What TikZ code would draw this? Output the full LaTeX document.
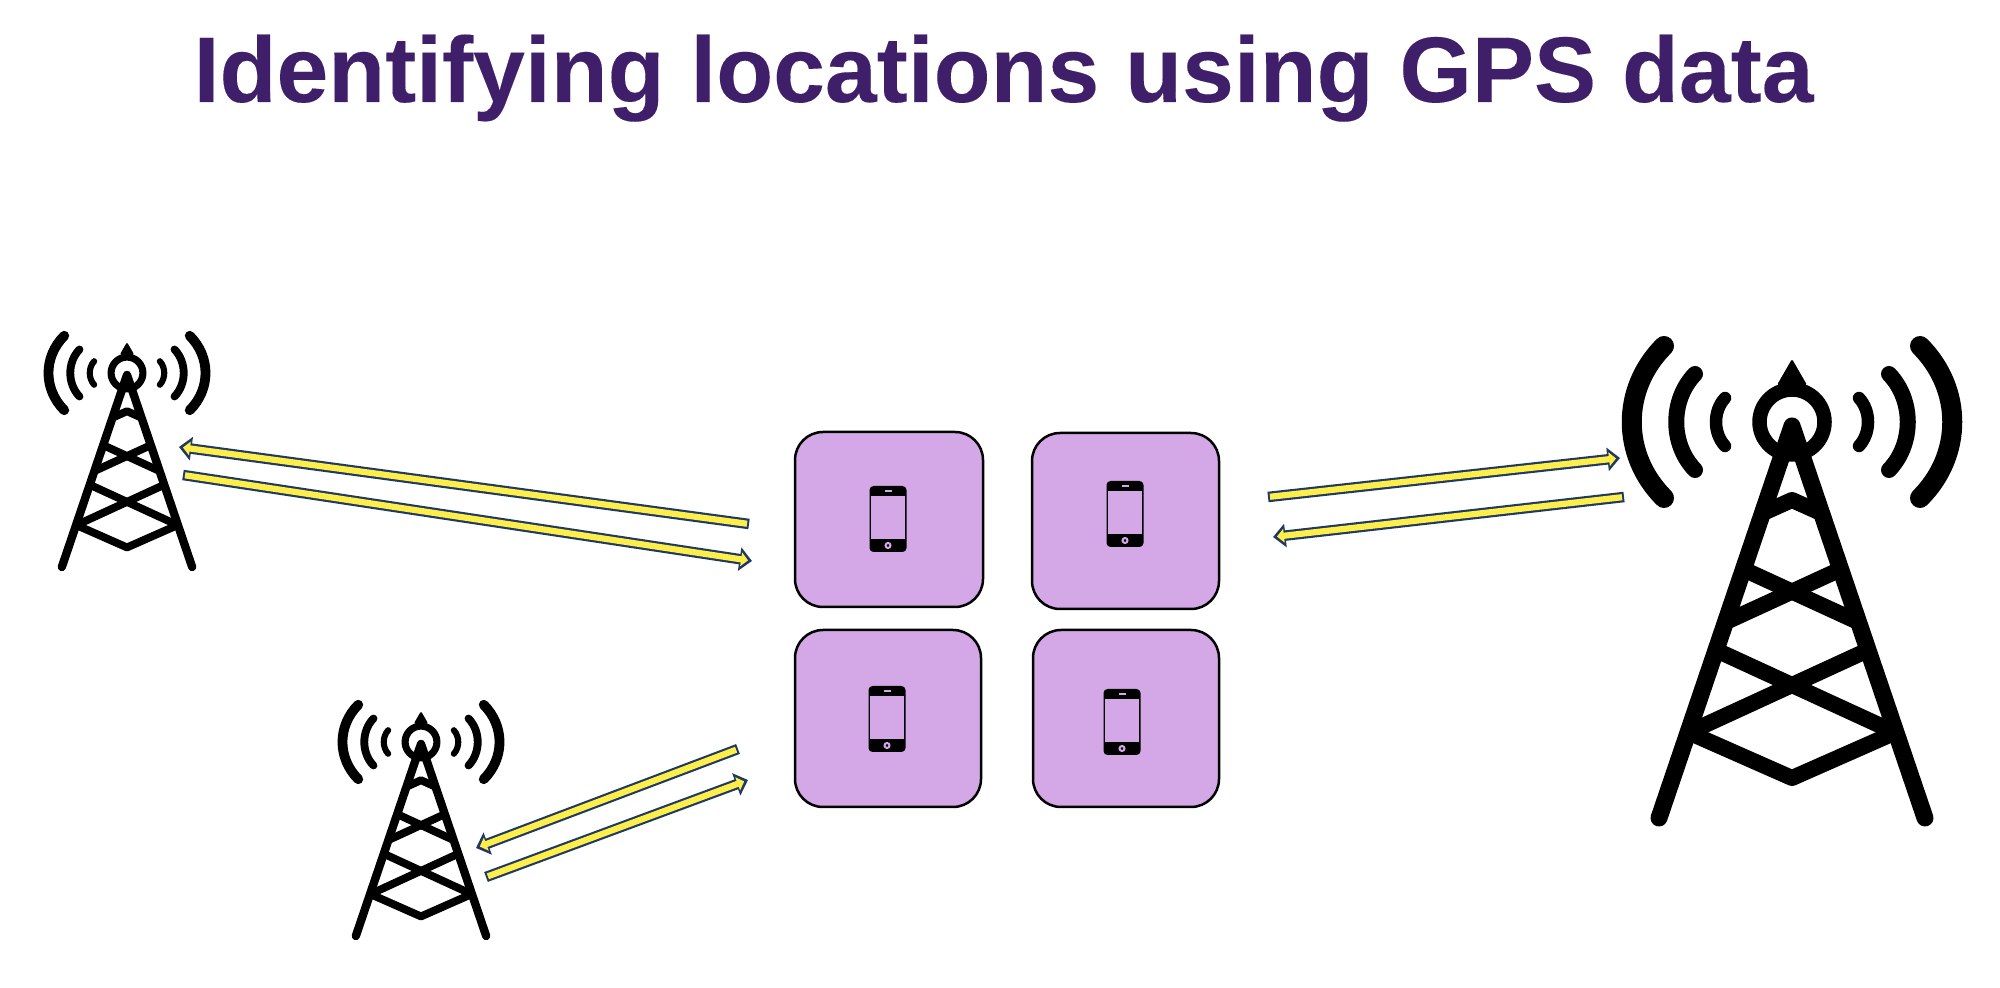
\documentclass[tikz,border=0pt]{standalone}
\usepackage{fontspec}
\setmainfont{Liberation Sans}[BoldFeatures={FakeBold=0.12}]
\usetikzlibrary{arrows.meta}
\definecolor{titlepurple}{HTML}{3F1F69}
\definecolor{boxlilac}{HTML}{D4A7E6}
\definecolor{pipenavy}{HTML}{1F3864}
\definecolor{pipeyellow}{HTML}{FDEE4A}
\tikzset{
  mast/.style={line width=#1, line cap=round, line join=round},
  handsetbox/.style={draw=black, line width=0.25mm, fill=boxlilac, rounded corners=0.28cm, inner sep=0pt},
  pipe/.style={draw=pipenavy, line width=1.05mm, -{Triangle[length=1.25mm,width=2.3mm]},
    postaction={draw=pipeyellow, line width=0.62mm, shorten <=0.2mm, shorten >=0.4mm,
      -{Triangle[length=0.7mm,width=1.35mm]}}},
  pics/handset/.style={code={
    \fill [black, rounded corners=0.04cm] (-0.185,-0.33) rectangle (0.185,0.33);
    \fill [boxlilac] (-0.17,0.225) rectangle (0.17,-0.205);
    \draw [boxlilac, line width=0.2mm] (-0.035,0.28) -- (0.035,0.28);
    \draw [boxlilac, line width=0.2mm] (0,-0.265) circle (0.025);
  }},
  pics/tower/.style={code={
    \begin{scope}[scale=#1]
    % waves
    \draw [mast=#1*2.0mm] (-1.28,0.76) .. controls (-1.71,0.33) and (-1.71,-0.33) .. (-1.28,-0.76);
    \draw [mast=#1*2.0mm] (1.28,0.76) .. controls (1.71,0.33) and (1.71,-0.33) .. (1.28,-0.76);
    \draw [mast=#1*1.6mm] (-0.97,0.48) .. controls (-1.22,0.22) and (-1.22,-0.22) .. (-0.97,-0.48);
    \draw [mast=#1*1.6mm] (0.97,0.48) .. controls (1.22,0.22) and (1.22,-0.22) .. (0.97,-0.48);
    \draw [mast=#1*1.25mm] (-0.67,0.24) .. controls (-0.79,0.11) and (-0.79,-0.11) .. (-0.67,-0.24);
    \draw [mast=#1*1.25mm] (0.67,0.24) .. controls (0.79,0.11) and (0.79,-0.11) .. (0.67,-0.24);
    % ring and top
    \fill [black, rounded corners=0.02cm] (-0.15,0.37) -- (0,0.63) -- (0.15,0.37) -- cycle;
    \draw [mast=#1*1.45mm] (0,0) circle (0.325);
    % legs
    \draw [mast=#1*1.7mm] (-1.33,-3.96) -- (0,-0.04) -- (1.33,-3.96);
    % bars
    \draw [mast=#1*1.6mm] (-0.29,-0.91) -- (0,-0.78) -- (0.29,-0.91);
    \draw [mast=#1*1.6mm] (-0.64,-1.99) -- (0.47,-1.48);
    \draw [mast=#1*1.6mm] (0.64,-1.99) -- (-0.47,-1.48);
    \draw [mast=#1*1.6mm] (-1.00,-3.09) -- (0.74,-2.29);
    \draw [mast=#1*1.6mm] (1.00,-3.09) -- (-0.74,-2.29);
    \draw [mast=#1*1.6mm] (-1.02,-3.11) -- (0,-3.56) -- (1.02,-3.11);
    \end{scope}
  }},
}
\begin{document}
\begin{tikzpicture}
\useasboundingbox (0,0) rectangle (20,9.87);
\node (title) [anchor=base west, inner sep=0pt, text=titlepurple, font=\fontsize{26.5pt}{30pt}\selectfont\bfseries] at (1.93,8.85) {Identifying locations using GPS data};

\node (topleftbox) [handsetbox, minimum width=1.88cm, minimum height=1.75cm] at (8.89,4.675) {};
\node (toprightbox) [handsetbox, minimum width=1.87cm, minimum height=1.76cm] at (11.255,4.66) {};
\node (bottomleftbox) [handsetbox, minimum width=1.86cm, minimum height=1.77cm] at (8.88,2.685) {};
\node (bottomrightbox) [handsetbox, minimum width=1.86cm, minimum height=1.77cm] at (11.26,2.685) {};
\pic at (8.88,4.68) {handset};
\pic at (11.25,4.73) {handset};
\pic at (8.87,2.68) {handset};
\pic at (11.22,2.65) {handset};

\pic at (17.92,5.65) {tower=1};
\pic at (1.27,6.14) {tower=0.49};
\pic at (4.21,2.45) {tower=0.49};

\coordinate (leftouttail) at (7.49,4.63);
\coordinate (leftouttip) at (1.79,5.40);
\coordinate (leftintail) at (1.83,5.12);
\coordinate (leftintip) at (7.52,4.26);
\coordinate (rightouttail) at (12.68,4.90);
\coordinate (rightouttip) at (16.20,5.29);
\coordinate (rightintail) at (16.24,4.90);
\coordinate (rightintip) at (12.73,4.50);
\coordinate (lowouttail) at (7.38,2.38);
\coordinate (lowouttip) at (4.76,1.39);
\coordinate (lowintail) at (4.86,1.10);
\coordinate (lowintip) at (7.48,2.07);
\draw [pipe] (leftouttail) -- (leftouttip);
\draw [pipe] (leftintail) -- (leftintip);
\draw [pipe] (rightouttail) -- (rightouttip);
\draw [pipe] (rightintail) -- (rightintip);
\draw [pipe] (lowouttail) -- (lowouttip);
\draw [pipe] (lowintail) -- (lowintip);
\end{tikzpicture}
\end{document}
